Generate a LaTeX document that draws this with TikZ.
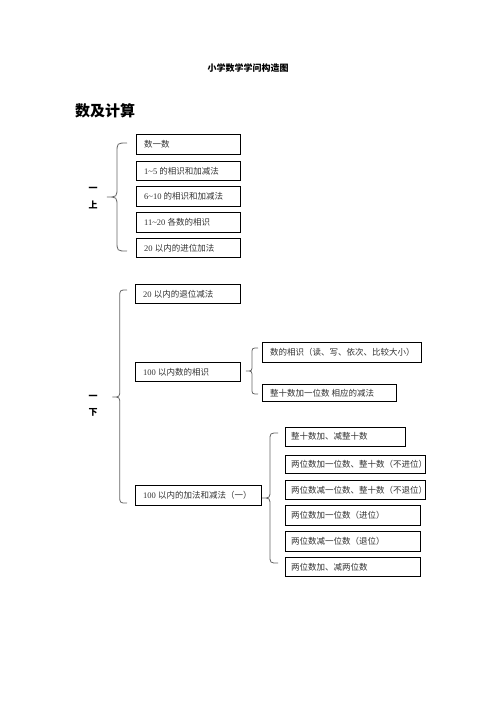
\documentclass[tikz,border=0pt]{standalone}
\usepackage{fontspec}
\setmainfont{Liberation Serif}
\newfontfamily\cjk{Noto Sans CJK SC}
\begin{document}
\begin{tikzpicture}[x=1pt,y=-1pt,
  itembox/.style={draw=black,line width=0.8pt,anchor=north west,inner sep=0pt,outer sep=0pt},
  itemtext/.style={anchor=west,font=\fontsize{8.5}{10}\selectfont,text=black!80,inner sep=0pt},
  bracepath/.style={draw=black!60,line width=0.8pt},
  sidelabel/.style={font=\fontsize{9}{10}\cjk\bfseries,inner sep=0pt}]
\fill[white] (0,0) rectangle (496,702);
\useasboundingbox (0,0) rectangle (496,702);

% titles
\node[font=\fontsize{9}{11}\cjk\bfseries,inner sep=0pt] (title) at (248,68) {小学数学学问构造图};
\node[font=\fontsize{15}{17}\cjk\bfseries,anchor=west,inner sep=0pt] (sect) at (75,111) {数及计算};

% brace macro: #1 x tip, #2 x arms, #3 y top, #4 y mid, #5 y bottom
\newcommand{\mybrace}[5]{%
  \pgfmathsetmacro{\xm}{(#1+#2)/2}%
  \pgfmathsetmacro{\hh}{(#2-#1)/2}%
  \draw[bracepath] (#2,#3) .. controls (\xm,#3) .. (\xm,#3+\hh) -- (\xm,#4-\hh)
     .. controls (\xm,#4) .. (#1,#4) .. controls (\xm,#4) .. (\xm,#4+\hh)
     -- (\xm,#5-\hh) .. controls (\xm,#5) .. (#2,#5);}

% group 1
\node[sidelabel] (l1a) at (93,189) {一};
\node[sidelabel] (l1b) at (93,205) {上};
\mybrace{107}{127}{143}{197}{251}
\foreach \n/\t/\txt in {a/134.5/{\cjk 数一数},
                      b/161/{1\textasciitilde5 {\cjk 的相识和加减法}},
                      c/186.5/{6\textasciitilde10 {\cjk 的相识和加减法}},
                      d/212.5/{11\textasciitilde20 {\cjk 各数的相识}},
                      e/238/{20 {\cjk 以内的进位加法}}}{
  \draw[itembox] (136,\t) rectangle ++(104,19.5);
  \node[itemtext] (g1\n) at (144,\t+9.8) {\txt};
}

% group 2
\node[sidelabel] (l2a) at (93,397) {一};
\node[sidelabel] (l2b) at (93,412) {下};
\mybrace{112.5}{127}{290}{397}{503}
\draw[itembox] (135,284) rectangle (240,303.5);
\node[itemtext] (g2a) at (143,293.8) {20 {\cjk 以内的退位减法}};
\draw[itembox] (135,362.5) rectangle (240,381.5);
\node[itemtext] (g2b) at (143,372) {100 {\cjk 以内数的相识}};

\mybrace{246}{258}{348}{371}{394}
\draw[itembox] (262.5,342.5) rectangle (421.5,362.5);
\node[itemtext] (g2c) at (270,352.5) {\cjk 数的相识（读、写、依次、比较大小）};
\draw[itembox] (262.5,384) rectangle (396.5,401.5);
\node[itemtext] (g2d) at (270,392.8) {\cjk 整十数加一位数\ 相应的减法};

% group 3
\draw[itembox] (135,485) rectangle (261.5,505);
\node[itemtext] (g3) at (143,495) {100 {\cjk 以内的加法和减法（一）}};
\mybrace{262}{278}{433}{498}{563}
\foreach \n/\t/\b/\r/\txt in {a/427/446/405.5/{整十数加、减整十数},
                      b/455/473.5/425/{两位数加一位数、整十数（不进位）},
                      c/480.5/499.5/425/{两位数减一位数、整十数（不退位）},
                      d/505.5/525/420/{两位数加一位数（进位）},
                      e/531.5/551/420/{两位数减一位数（退位）},
                      f/557.5/576/420/{两位数加、减两位数}}{
  \draw[itembox] (285,\t) rectangle (\r,\b);
  \node[itemtext] (g3\n) at (291,{(\t+\b)/2}) {\cjk\txt};
}
\end{tikzpicture}
\end{document}
